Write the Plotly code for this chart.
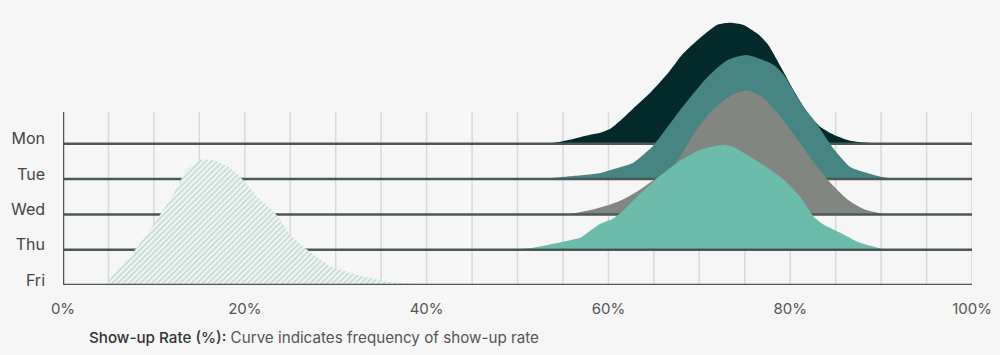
import plotly.graph_objects as go

# ---- data ----
days = ["Mon", "Tue", "Wed", "Thu", "Fri"]
colors = ["#03292b", "#478584", "#818680", "#6bbcaa", "#93c3b9"]

mon_x = [49.8, 53.6, 55.5, 58.0, 59.1, 60.2, 61.3, 62.7, 64.6, 66.5, 68.2, 70.1, 72.0, 73.4, 74.8, 76.4, 77.5, 78.9, 80.4, 81.9, 83.3, 84.8, 86.6, 88.5, 89.9]
mon_f = [0, 0.5, 3.5, 9, 11, 15, 23, 35, 51, 70, 90, 106, 119, 121, 119, 110, 100, 78, 53, 31, 17, 9, 3, 1, 0]

tue_x = [52.5, 55.5, 59.1, 61.0, 62.7, 63.8, 64.9, 67.9, 70.9, 73.1, 75.2, 77.0, 78.2, 79.3, 81.1, 83.0, 84.8, 86.6, 88.5, 90.1, 91.6]
tue_f = [0, 2.5, 6, 11, 16, 24, 33, 69, 102, 119, 124, 119, 114, 104, 77, 54, 30, 12, 6, 2, 0]

wed_x = [55.5, 58.3, 60.2, 61.6, 63.5, 64.9, 67.1, 67.9, 69.8, 71.5, 73.7, 75.3, 77.0, 78.9, 80.8, 82.6, 84.4, 86.3, 88.2, 90.0, 91.0]
wed_f = [0, 5, 10, 15, 25, 34, 48, 58, 86, 105, 120, 124, 117, 98, 75, 52, 32, 15, 5, 1, 0]

thu_x = [49.2, 51.7, 55.5, 56.9, 58.0, 59.1, 60.5, 61.6, 63.5, 65.7, 67.9, 70.1, 72.6, 73.7, 75.6, 77.5, 79.3, 81.1, 82.6, 83.7, 85.5, 87.4, 89.2, 90.5]
thu_f = [0, 2, 9, 12, 19, 26, 31, 39, 56, 74, 89, 100, 105, 103, 93, 82, 70, 53, 33, 25, 17, 8, 3, 0]

fri_x = [5.0, 5.1, 6.6, 8.5, 10.3, 12.1, 13.6, 15.1, 16.5, 18.4, 19.8, 21.4, 23.5, 25.0, 26.9, 29.4, 32.4, 36.0, 39.6, 41.0]
fri_f = [0, 5, 20, 42, 65, 90, 115, 125, 125, 117, 105, 88, 70, 50, 35, 19, 10, 3, 1, 0]

x_ticks = [0, 20, 40, 60, 80, 100]
x_tick_labels = ["0%", "20%", "40%", "60%", "80%", "100%"]
grid_x = [5, 10, 15, 20, 25, 30, 35, 40, 45, 50, 55, 60, 65, 70, 75, 80, 85, 90, 95, 100]

# ---- styling / layout constants ----
BG = "#f6f6f6"
AXIS = "#4b5858"
GRID = "#d8d9da"
FONT = "Inter"
ridge_scale = 1 / 35.3     # frequency units -> row units
grid_top = 4.9
label_lift = 0.14

curves = [(mon_x, mon_f), (tue_x, tue_f), (wed_x, wed_f), (thu_x, thu_f), (fri_x, fri_f)]
n = len(days)

fig = go.Figure()
for i, (day, col, (xs, fs)) in enumerate(zip(days, colors, curves)):
    row = n - 1 - i
    ys = [row + f * ridge_scale for f in fs]
    if day == "Fri":
        fig.add_trace(go.Scatter(
            x=xs, y=ys, mode="lines", line=dict(width=0, shape="spline", smoothing=0.6),
            fill="toself", fillcolor=BG,
            fillpattern=dict(shape="/", fgcolor=col, bgcolor=BG, size=4, solidity=0.5),
            hoverinfo="skip", showlegend=False))
    else:
        fig.add_trace(go.Scatter(
            x=xs, y=ys, mode="lines", line=dict(width=0, color=col, shape="spline", smoothing=0.6),
            fill="toself", fillcolor=col, hoverinfo="skip", showlegend=False))
    fig.add_trace(go.Scatter(
        x=[0, 100], y=[row, row], mode="lines", line=dict(color=AXIS, width=2.5),
        hoverinfo="skip", showlegend=False))

shapes = []
for gx in grid_x:
    shapes.append(dict(type="line", xref="x", yref="y", x0=gx, x1=gx, y0=0, y1=grid_top,
                       line=dict(color=GRID, width=1.5), layer="below"))
shapes.append(dict(type="line", xref="x", yref="y", x0=0, x1=0, y0=0, y1=grid_top,
                   line=dict(color=AXIS, width=2.5), layer="above"))

fig.update_layout(
    width=1000, height=355,
    margin=dict(l=63, r=28, t=10, b=70, autoexpand=False),
    paper_bgcolor=BG, plot_bgcolor=BG,
    font=dict(family=FONT, color="#4a4a4a"),
    shapes=shapes,
    xaxis=dict(range=[0, 100], showgrid=False, zeroline=False, showline=False, automargin=False,
               tickvals=x_ticks, ticktext=x_tick_labels, ticks="",
               tickfont=dict(size=15, color="#555555"), ticklabelstandoff=13, fixedrange=True),
    yaxis=dict(range=[0, (285 - 10) / 35.3], showgrid=False, zeroline=False, showline=False, automargin=False,
               tickvals=[n - 1 - i + label_lift for i in range(n)], ticktext=days, ticks="",
               tickfont=dict(size=16, color="#454545"), ticklabelstandoff=17, fixedrange=True),
    annotations=[dict(
        xref="paper", yref="paper", x=0.0264, y=-0.19, xanchor="left", yanchor="middle",
        showarrow=False, font=dict(size=15.2, color="#555555", family=FONT),
        text="<span style='color:#333333;font-weight:500'>Show-up Rate (%):</span> Curve indicates frequency of show-up rate")],
)

fig.write_html("out.html", config={"displayModeBar": False},
               post_script="document.body.style.margin='0';document.body.style.background='" + BG + "';")
